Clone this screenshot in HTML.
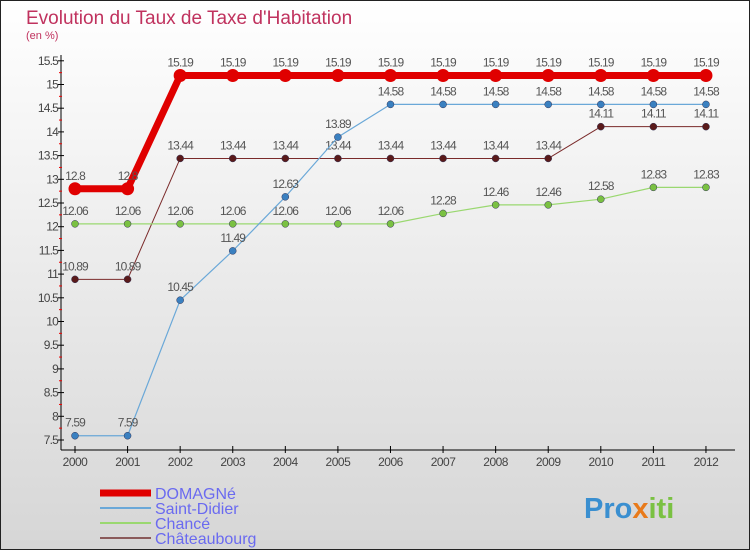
<!DOCTYPE html>
<html><head><meta charset="utf-8"><style>
body{margin:0;width:750px;height:550px;overflow:hidden;font-family:"Liberation Sans",sans-serif}
#wrap{position:absolute;left:0;top:0;width:748px;height:548px;border:1px solid #222;background:linear-gradient(#ffffff,#d6d6d6)}
</style></head><body>
<div id="wrap">
<svg id="svg" width="750" height="550" style="position:absolute;left:-1px;top:-1px">
<text x="26" y="24" font-size="19" fill="#c0325e">Evolution du Taux de Taxe d'Habitation</text>
<text x="26" y="39" font-size="11" fill="#c0325e">(en %)</text>
<g id="axes"></g><g id="series"></g>
<text x="584" y="518" font-size="29" font-weight="bold" fill="#3a8fd0">Pro<tspan fill="#e87a1a">x</tspan><tspan fill="#7ac142">iti</tspan></text>
</svg>
</div>
<script>
const years=["2000","2001","2002","2003","2004","2005","2006","2007","2008","2009","2010","2011","2012"];
const yTicks=[7.5,8,8.5,9,9.5,10,10.5,11,11.5,12,12.5,13,13.5,14,14.5,15,15.5];
const seriesNames=["DOMAGNé","Saint-Didier","Chancé","Châteaubourg"];
const domagne=[12.8,12.8,15.19,15.19,15.19,15.19,15.19,15.19,15.19,15.19,15.19,15.19,15.19];
const saintDidier=[7.59,7.59,10.45,11.49,12.63,13.89,14.58,14.58,14.58,14.58,14.58,14.58,14.58];
const chance=[12.06,12.06,12.06,12.06,12.06,12.06,12.06,12.28,12.46,12.46,12.58,12.83,12.83];
const chateaubourg=[10.89,10.89,13.44,13.44,13.44,13.44,13.44,13.44,13.44,13.44,14.11,14.11,14.11];
const NS="http://www.w3.org/2000/svg";
const X=i=>75+i*52.58, Y=v=>440-(v-7.5)*47.4;
function mk(t,a,p){const e=document.createElementNS(NS,t);for(const k in a)e.setAttribute(k,a[k]);p.appendChild(e);return e;}
const ax=document.getElementById('axes'), sg=document.getElementById('series');
const yl=mk('line',{x1:61,y1:55,x2:61,y2:450,stroke:'#000'},ax);


const xl=mk('line',{x1:61,y1:450,x2:735,y2:450,stroke:'#000'},ax);


yTicks.forEach((v,i)=>{const y=Y(v);
 mk('line',{x1:58,y1:y,x2:64,y2:y,stroke:'#000'},ax);
 if(i<yTicks.length-1)mk('line',{x1:59,y1:Y(v+0.25),x2:62,y2:Y(v+0.25),stroke:'#e00'},ax);
 const t=mk('text',{x:58,y:y+4,'font-size':12,'text-anchor':'end',fill:'#444','letter-spacing':'-0.8'},ax);t.textContent=v;
 
 });
years.forEach((yr,i)=>{const x=X(i);mk('line',{x1:x,y1:446,x2:x,y2:453,stroke:'#000'},ax);
 const t=mk('text',{x:x,y:466,'font-size':12,'text-anchor':'middle',fill:'#444','letter-spacing':'-0.5'},ax);t.textContent=yr;
 
 });
const defs=[[chateaubourg,'#7a2a2a','#5a1a1a',1,3.5],[chance,'#9ad870','#7ac142',1.2,3.5],[saintDidier,'#6aa8d8','#3a80c0',1.2,3.5],[domagne,'#e00000','#e00000',7,6.5]];
const names=['chateaubourg','chance','saint-didier','domagne'];
defs.forEach(([d,c,mc,w,r],k)=>{
 const p=mk('polyline',{points:d.map((v,i)=>X(i)+','+Y(v)).join(' '),fill:'none',stroke:c,'stroke-width':w,'stroke-linejoin':'round'},sg);
 
 
 d.forEach((v,i)=>{const m=mk('circle',{cx:X(i),cy:Y(v),r:r,fill:mc,stroke:k==3?'none':'#335','stroke-width':0.5},sg);
  
  
  const t=mk('text',{x:X(i),y:Y(v)-9,'font-size':12,'text-anchor':'middle',fill:'#555','letter-spacing':'-0.9'},sg);t.textContent=v;
  
  });
});
const lc=['#e00000','#6aa8d8','#9ad870','#8a5a5a'],lw=[7,2,2,2];
seriesNames.forEach((n,i)=>{const y=493+i*15;
 const l=mk('line',{x1:100,y1:y,x2:151,y2:y,stroke:lc[i],'stroke-width':lw[i]},ax);
 
 
 const t=mk('text',{x:155,y:y+6,'font-size':16,fill:'#6a6af0'},ax);t.textContent=n;
 
 });
</script>
</body></html>
